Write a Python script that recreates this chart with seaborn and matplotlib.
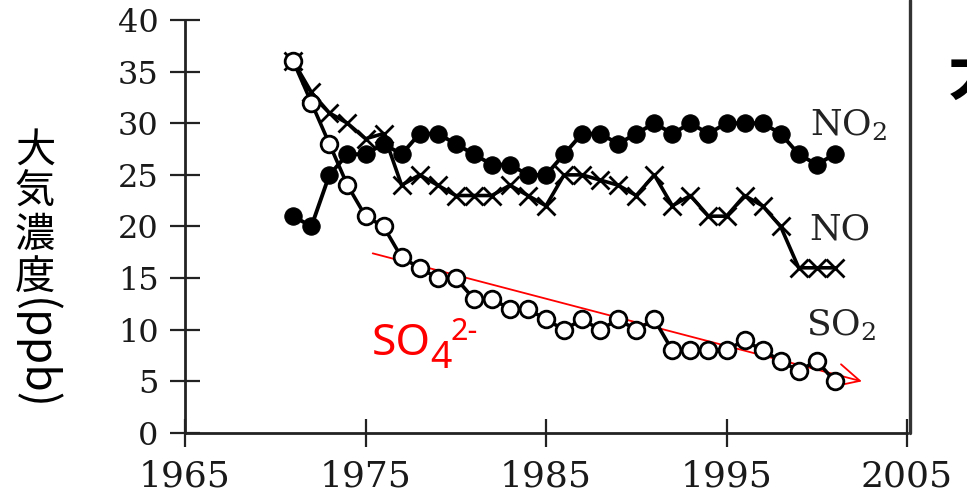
import matplotlib
matplotlib.use("Agg")
import matplotlib.pyplot as plt
from matplotlib.lines import Line2D
import seaborn as sns
import pandas as pd

# Annual mean concentrations (ppb)
years = list(range(1971, 2002))
no2 = [21, 20, 25, 27, 27, 28, 27, 29, 29, 28,
       27, 26, 26, 25, 25, 27, 29, 29, 28, 29,
       30, 29, 30, 29, 30, 30, 30, 29, 27, 26, 27]
no = [36, 33, 31, 30, 28.5, 29, 24, 25, 24, 23,
      23, 23, 24, 23, 22, 25, 25, 24.5, 24, 23,
      25, 22, 23, 21, 21, 23, 22, 20, 16, 16, 16]
so2 = [36, 32, 28, 24, 21, 20, 17, 16, 15, 15,
       13, 13, 12, 12, 11, 10, 11, 10, 11, 10,
       11, 8, 8, 8, 8, 9, 8, 7, 6, 7, 5]

x_ticks = [1965, 1975, 1985, 1995, 2005]
y_ticks = [0, 5, 10, 15, 20, 25, 30, 35, 40]

# Trend arrow for sulfate (start -> end)
trend_start = (1975.4, 17.4)
trend_end = (2002.5, 5.0)

df = pd.DataFrame({"year": years, "NO2": no2, "NO": no, "SO2": so2})

sns.set_style("white")
plt.rcParams["font.family"] = ["DejaVu Serif"]
plt.rcParams["mathtext.fontset"] = "dejavuserif"

W, H = 967, 495
fig = plt.figure(figsize=(W / 100, H / 100), dpi=100)
ax = fig.add_axes([185 / W, 62 / H, 722 / W, 413 / H])

sns.lineplot(data=df, x="year", y="NO", ax=ax, color="black", lw=2.6,
             marker="x", markersize=13, markeredgewidth=2.0,
             markeredgecolor="black", zorder=3)
sns.lineplot(data=df, x="year", y="NO2", ax=ax, color="black", lw=2.8,
             marker="o", markersize=12.5, markerfacecolor="black",
             markeredgecolor="black", zorder=4)
sns.lineplot(data=df, x="year", y="SO2", ax=ax, color="black", lw=2.6,
             marker="o", markersize=12, markerfacecolor="white",
             markeredgecolor="black", markeredgewidth=2.0, zorder=5)

ax.set_xlim(1965, 2005)
ax.set_ylim(0, 40)
ax.set_xticks(x_ticks)
ax.set_yticks(y_ticks)
ax.set_xlabel("")
ax.set_ylabel("")

ax.spines["top"].set_visible(False)
ax.spines["right"].set_visible(False)
for side in ["left", "bottom"]:
    ax.spines[side].set_color("#222222")
    ax.spines[side].set_linewidth(2.0)

ax.tick_params(axis="y", left=True, direction="inout", length=22, width=1.6,
               color="#222222", labelsize=23, pad=8, labelcolor="#1a1a1a")
ax.tick_params(axis="x", bottom=True, direction="inout", length=20, width=1.6,
               color="#222222", labelsize=26, pad=9, labelcolor="#1a1a1a")

# frame line on the right side running up to the top edge
fig.add_artist(Line2D([910 / W, 910 / W], [62 / H, 1.0], color="#333333",
                      lw=2.4, transform=fig.transFigure))

# series labels
ax.text(1999.6, 29.8, r"NO$_2$", fontsize=26, va="center", ha="left",
        color="#222222")
ax.text(1999.6, 19.7, "NO", fontsize=26, va="center", ha="left",
        color="#222222")
ax.text(1999.4, 10.4, r"SO$_2$", fontsize=26, va="center", ha="left",
        color="#222222")

# sulfate trend arrow and label
ax.annotate("", xy=trend_end, xytext=trend_start,
            arrowprops=dict(arrowstyle="->,head_length=0.9,head_width=0.45",
                            color="red", lw=1.3, mutation_scale=18,
                            shrinkA=0, shrinkB=0))
sans = ["Noto Sans", "DejaVu Sans"]
ax.text(1975.35, 7.55, "SO", fontsize=32, color="red", family=sans,
        va="baseline", ha="left")
ax.text(1978.6, 6.3, "4", fontsize=27, color="red", family=sans,
        va="baseline", ha="left")
ax.text(1979.7, 9.0, "2-", fontsize=22, color="red", family=sans,
        va="baseline", ha="left")

# vertical y-axis title (Japanese vertical writing)
cjk = ["Noto Sans CJK JP", "DejaVu Sans"]
for ch, yc in zip("大気濃度", [150, 192, 235, 277]):
    fig.text(35 / W, 1 - yc / H, ch, fontsize=29, family=cjk,
             ha="center", va="center", color="black")
fig.text(35 / W, 1 - 354 / H, "(ppb)", fontsize=32, family=cjk,
         rotation=-90, ha="center", va="center", color="black")

# heading cut off at the right edge
fig.text(948 / W, 1 - 46 / H, "大", fontsize=44, family=cjk,
         fontweight="bold", ha="left", va="top", color="black")

fig.savefig("out.png", dpi=100)
